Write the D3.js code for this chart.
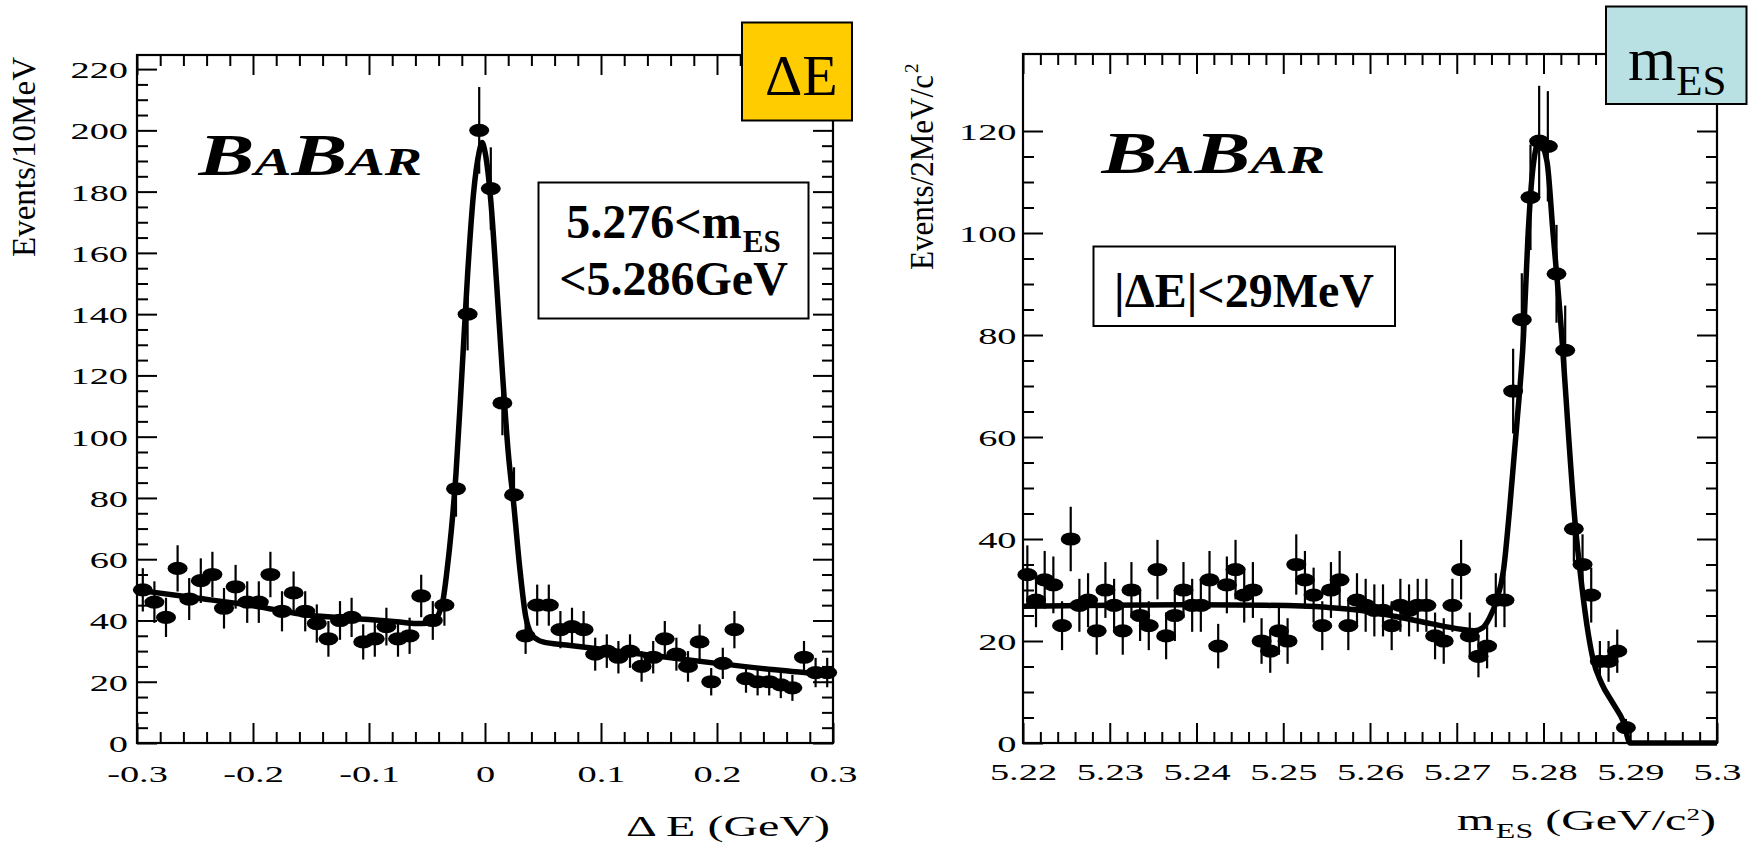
<!DOCTYPE html>
<html>
<head>
<meta charset="utf-8">
<script src="https://cdn.jsdelivr.net/npm/d3@7"></script>
<style>
  html, body { margin: 0; padding: 0; background: #fff; }
  svg { display: block; }
  text { font-family: "Liberation Serif", "Times New Roman", serif; }
</style>
</head>
<body>
<svg id="chart" width="1755" height="843"></svg>
<script>
// ---------------- ΔE panel: 10 MeV bins from -0.3 to 0.3 GeV ----------------
const deRange = [-0.3, 0.3];
const deBinWidth = 0.01;
const deEvents = [
  50, 46, 41, 57, 47, 53, 55, 44, 51, 46,
  46, 55, 43, 49, 43, 39, 34, 40, 41, 33,
  34, 38, 34, 35, 48, 40, 45, 83, 140, 200,
  181, 111, 81, 35, 45, 45, 37, 38, 37, 29,
  30, 28, 30, 25, 28, 34, 29, 25, 33, 20,
  26, 37, 21, 20, 20, 19, 18, 28, 23, 23
];
// fitted curve (signal + background), sampled along ΔE
const deFit = [
  [-0.300, 49.9], [-0.250, 47.4], [-0.200, 44.8], [-0.150, 41.6], [-0.120, 40.8],
  [-0.100, 40.3], [-0.076, 39.6], [-0.059, 39.0], [-0.050, 39.1], [-0.045, 39.8],
  [-0.040, 42.0], [-0.036, 47.0], [-0.033, 55.5], [-0.029, 69.5], [-0.025, 88],
  [-0.020, 120], [-0.015, 153], [-0.010, 179], [-0.005, 193], [-0.0025, 196],
  [0.000, 193], [0.005, 177], [0.010, 150], [0.015, 121], [0.020, 95],
  [0.025, 77], [0.030, 57], [0.035, 41.5], [0.040, 35.5], [0.045, 33.8],
  [0.050, 33.0], [0.070, 32.0], [0.100, 30.6], [0.150, 28.3], [0.200, 26.0],
  [0.250, 23.9], [0.300, 22.2]
];
const deYTicks = [0, 20, 40, 60, 80, 100, 120, 140, 160, 180, 200, 220];
const deXTicks = [-0.3, -0.2, -0.1, 0, 0.1, 0.2, 0.3];
const deXTickLabels = ["-0.3", "-0.2", "-0.1", "0", "0.1", "0.2", "0.3"];
const deYMax = 224.6;

// ---------------- mES panel: 1 MeV bins from 5.22 GeV/c² ----------------
const mesRange = [5.22, 5.30];
const mesBinWidth = 0.001;
const mesEvents = [
  33, 28, 32, 31, 23, 40, 27, 28, 22, 30,
  27, 22, 30, 25, 23, 34, 21, 25, 30, 27,
  27, 32, 19, 31, 34, 29, 30, 20, 18, 22,
  20, 35, 32, 29, 23, 30, 32, 23, 28, 27,
  26, 26, 23, 27, 26, 27, 27, 21, 20, 27,
  34, 21, 17, 19, 28, 28, 69, 83, 107, 118,
  117, 92, 77, 42, 35, 29, 16, 16, 18, 3
];
const mesFit = [
  [5.2200, 26.8], [5.2300, 27.0], [5.2400, 27.1], [5.2480, 27.0], [5.2550, 26.6],
  [5.2590, 26.0], [5.2630, 24.8], [5.2670, 23.4], [5.2705, 22.3], [5.2720, 22.0],
  [5.2730, 22.6], [5.2738, 24.6], [5.2746, 28.0], [5.2754, 34.0], [5.2761, 46],
  [5.2769, 62], [5.2777, 80], [5.2782, 99], [5.2788, 113], [5.2795, 118],
  [5.2804, 114], [5.2811, 100], [5.2821, 80], [5.2829, 60], [5.2836, 44],
  [5.2844, 31], [5.2852, 21], [5.2857, 16.5], [5.2867, 11.7], [5.2880, 7.8],
  [5.2892, 4.2], [5.2900, 0], [5.3000, 0]
];
const mesYTicks = [0, 20, 40, 60, 80, 100, 120];
const mesXTicks = [5.22, 5.23, 5.24, 5.25, 5.26, 5.27, 5.28, 5.29, 5.30];
const mesXTickLabels = ["5.22", "5.23", "5.24", "5.25", "5.26", "5.27", "5.28", "5.29", "5.3"];
const mesYMax = 135.1;

// ---------------- drawing ----------------
const svg = d3.select("#chart");
const SX = 1.6;            // plot lettering is drawn wide
const BLACK = "#000";

function minorValues(lo, hi, step, majorStep) {
  const n = Math.round((hi - lo) / step);
  return d3.range(n + 1).map(i => lo + i * step)
    .filter(v => Math.abs((v - lo) / majorStep - Math.round((v - lo) / majorStep)) > 1e-6);
}

function cleanAxis(sel) {
  sel.attr("font-family", null).attr("font-size", null);
  sel.select(".domain").remove();
  sel.selectAll(".tick line").attr("stroke", BLACK).attr("stroke-width", 2);
}

function drawPanel(c) {
  const g = svg.append("g");
  const x = d3.scaleLinear().domain(c.xDomain).range([c.left, c.right]);
  const y = d3.scaleLinear().domain([0, c.yMax]).range([c.bottom, c.top]);

  const xMinor = minorValues(c.xDomain[0], c.xDomain[1], c.xMinorStep, c.xMinorStep * 5);
  const yMinor = minorValues(0, c.yTicks[c.yTicks.length - 1], 5, 20);

  // bottom axis, labelled
  g.append("g").attr("transform", `translate(0,${c.bottom})`)
    .call(d3.axisBottom(x).tickValues(c.xTicks).tickSize(-20)
      .tickFormat((d, i) => c.xTickLabels[i]))
    .call(cleanAxis)
    .call(s => s.selectAll("text")
      .attr("dy", null).attr("y", c.xLabelDrop)
      .attr("transform", `scale(${SX},1)`)
      .style("font-size", "24px"));
  g.append("g").attr("transform", `translate(0,${c.bottom})`)
    .call(d3.axisBottom(x).tickValues(xMinor).tickSize(-11).tickFormat(() => ""))
    .call(cleanAxis);

  // top axis, ticks only
  g.append("g").attr("transform", `translate(0,${c.top})`)
    .call(d3.axisTop(x).tickValues(c.xTicks).tickSize(-20).tickFormat(() => ""))
    .call(cleanAxis);
  g.append("g").attr("transform", `translate(0,${c.top})`)
    .call(d3.axisTop(x).tickValues(xMinor).tickSize(-11).tickFormat(() => ""))
    .call(cleanAxis);

  // left axis, labelled
  g.append("g").attr("transform", `translate(${c.left},0)`)
    .call(d3.axisLeft(y).tickValues(c.yTicks).tickSize(-20))
    .call(cleanAxis)
    .call(s => s.selectAll("text")
      .attr("dy", null).attr("y", 8.5)
      .attr("x", c.yLabelGap / SX)
      .attr("transform", `scale(${SX},1)`)
      .style("font-size", "24px"));
  g.append("g").attr("transform", `translate(${c.left},0)`)
    .call(d3.axisLeft(y).tickValues(yMinor).tickSize(-11).tickFormat(() => ""))
    .call(cleanAxis);

  // right axis, ticks only
  g.append("g").attr("transform", `translate(${c.right},0)`)
    .call(d3.axisRight(y).tickValues(c.yTicks).tickSize(-20).tickFormat(() => ""))
    .call(cleanAxis);
  g.append("g").attr("transform", `translate(${c.right},0)`)
    .call(d3.axisRight(y).tickValues(yMinor).tickSize(-11).tickFormat(() => ""))
    .call(cleanAxis);

  // frame
  g.append("rect")
    .attr("x", c.left).attr("y", c.top)
    .attr("width", c.right - c.left).attr("height", c.bottom - c.top)
    .attr("fill", "none").attr("stroke", BLACK).attr("stroke-width", 2.2);

  // histogram points with Poisson error bars
  const pts = c.events.map((v, i) => ({ x: c.xDomain[0] + (i + 0.5) * c.binWidth, v }));
  g.append("g").selectAll("line").data(pts).join("line")
    .attr("x1", d => x(d.x)).attr("x2", d => x(d.x))
    .attr("y1", d => y(d.v + Math.sqrt(d.v)))
    .attr("y2", d => y(Math.max(0, d.v - Math.sqrt(d.v))))
    .attr("stroke", BLACK).attr("stroke-width", 2.2);
  g.append("g").selectAll("ellipse").data(pts).join("ellipse")
    .attr("cx", d => x(d.x)).attr("cy", d => y(d.v))
    .attr("rx", 10).attr("ry", 6.6).attr("fill", BLACK);

  // fit curve
  const line = d3.line().x(d => x(d[0])).y(d => y(d[1])).curve(d3.curveMonotoneX);
  g.append("path").datum(c.fit).attr("d", line)
    .attr("fill", "none").attr("stroke", BLACK)
    .attr("stroke-width", 5.5).attr("stroke-linejoin", "round");

  return { x, y };
}

drawPanel({
  left: 137, right: 833, top: 55, bottom: 743,
  xDomain: deRange, yMax: deYMax, binWidth: deBinWidth,
  events: deEvents, fit: deFit,
  xTicks: deXTicks, xTickLabels: deXTickLabels, yTicks: deYTicks,
  xMinorStep: 0.02, xLabelDrop: 39, yLabelGap: -9
});

drawPanel({
  left: 1023, right: 1717, top: 54, bottom: 743,
  xDomain: mesRange, yMax: mesYMax, binWidth: mesBinWidth,
  events: mesEvents, fit: mesFit,
  xTicks: mesXTicks, xTickLabels: mesXTickLabels, yTicks: mesYTicks,
  xMinorStep: 0.002, xLabelDrop: 37, yLabelGap: -6.5
});

// ---------------- axis titles ----------------
svg.append("text")
  .attr("transform", "translate(35,257) rotate(-90)")
  .attr("font-size", 33).attr("textLength", 200).attr("lengthAdjust", "spacingAndGlyphs")
  .text("Events/10MeV");

svg.append("text")
  .attr("transform", "translate(933,270) rotate(-90)")
  .attr("font-size", 33).attr("textLength", 195).attr("lengthAdjust", "spacingAndGlyphs")
  .text("Events/2MeV/c");
svg.append("text")
  .attr("transform", "translate(918,73) rotate(-90)")
  .attr("font-size", 19)
  .text("2");

svg.append("text")
  .attr("transform", `translate(830,836) scale(${SX},1)`)
  .attr("text-anchor", "end").attr("font-size", 30)
  .text("Δ E (GeV)");

const mesTitle = svg.append("text")
  .attr("transform", `translate(1716,830) scale(${SX},1)`)
  .attr("text-anchor", "end").attr("font-size", 30);
mesTitle.append("tspan").text("m");
mesTitle.append("tspan").attr("font-size", 20).attr("dy", 8).attr("dx", 1).text("ES");
mesTitle.append("tspan").attr("dy", -8).text(" (GeV/c");
mesTitle.append("tspan").attr("font-size", 17).attr("dy", -10).text("2");
mesTitle.append("tspan").attr("dy", 10).text(")");

// ---------------- BaBar logos ----------------
function babar(x0, baseline, width) {
  const t = svg.append("text").attr("font-weight", "bold").attr("font-style", "italic");
  [["B", 60], ["A", 40], ["B", 60], ["AR", 40]].forEach(([s, fs]) =>
    t.append("tspan").attr("font-size", fs).text(s));
  const bb = t.node().getBBox();
  t.attr("transform", `translate(${x0},${baseline}) scale(${width / bb.width},1) translate(${-bb.x},0)`);
}
babar(197, 175, 225);
babar(1100, 173, 225);

// ---------------- cut boxes ----------------
svg.append("rect").attr("x", 538.5).attr("y", 182.5).attr("width", 270).attr("height", 136)
  .attr("fill", "#fff").attr("stroke", BLACK).attr("stroke-width", 2);
const cut1 = svg.append("text").attr("x", 673.5).attr("y", 238).attr("text-anchor", "middle")
  .attr("font-weight", "bold").attr("font-size", 48);
cut1.append("tspan").text("5.276<m");
cut1.append("tspan").attr("font-size", 31).attr("dy", 14).attr("dx", 1).text("ES");
svg.append("text").attr("x", 673.5).attr("y", 295).attr("text-anchor", "middle")
  .attr("font-weight", "bold").attr("font-size", 48).text("<5.286GeV");

svg.append("rect").attr("x", 1093.5).attr("y", 246.5).attr("width", 301.5).attr("height", 79.5)
  .attr("fill", "#fff").attr("stroke", BLACK).attr("stroke-width", 2);
svg.append("text").attr("x", 1244).attr("y", 306.5).attr("text-anchor", "middle")
  .attr("font-weight", "bold").attr("font-size", 48).text("|ΔE|<29MeV");

// ---------------- variable tags ----------------
svg.append("rect").attr("x", 742).attr("y", 22.5).attr("width", 110).attr("height", 98)
  .attr("fill", "#FFCC00").attr("stroke", BLACK).attr("stroke-width", 2);
svg.append("text").attr("x", 765).attr("y", 95).attr("font-size", 58).text("ΔE");

svg.append("rect").attr("x", 1606).attr("y", 6.5).attr("width", 140.5).attr("height", 97.5)
  .attr("fill", "#B9E0E3").attr("stroke", BLACK).attr("stroke-width", 2);
const tag = svg.append("text").attr("x", 1628).attr("y", 80).attr("font-size", 62);
tag.append("tspan").text("m");
tag.append("tspan").attr("font-size", 43).attr("dy", 15).text("ES");
</script>
</body>
</html>
